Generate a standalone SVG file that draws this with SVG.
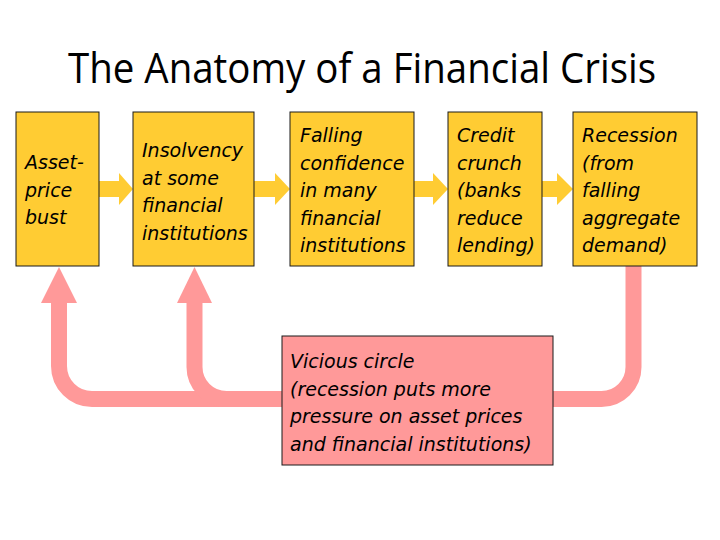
<svg xmlns="http://www.w3.org/2000/svg" width="720" height="540" viewBox="0 0 720 540">
  <style>
    .box { fill: #FFCC33; stroke: #1a1a1a; stroke-width: 1; }
    .pbox { fill: #FF9999; stroke: #1a1a1a; stroke-width: 1; }
    .t { font-family: "DejaVu Sans", "Liberation Sans", sans-serif; font-style: italic; font-size: 19px; fill: #000; }
    .title { font-family: "Open Sans", "Liberation Sans", sans-serif; font-size: 42px; fill: #000; }
    .yarrow { fill: #FFCC33; }
    .loop { fill: none; stroke: #FF9999; stroke-width: 16; }
    .phead { fill: #FF9999; }
  </style>
  <rect width="720" height="540" fill="#ffffff"/>
  <text class="title" x="68" y="83" textLength="588" lengthAdjust="spacingAndGlyphs">The Anatomy of a Financial Crisis</text>

  <g id="connectors">
    <polygon class="yarrow" points="99,181 119,181 119,173 133,189 119,205 119,197 99,197"/>
    <polygon class="yarrow" points="254,181 275,181 275,173 290,189 275,205 275,197 254,197"/>
    <polygon class="yarrow" points="414,181 433,181 433,173 448,189 433,205 433,197 414,197"/>
    <polygon class="yarrow" points="542,181 557,181 557,173 573,189 557,205 557,197 542,197"/>
    <path class="loop" d="M59,302 V366 A33,33 0 0 0 92,399 H283"/>
    <polygon class="phead" points="59,267 41,303 77,303"/>
    <path class="loop" d="M194.5,302 V367 A32,32 0 0 0 226.5,399 H283"/>
    <polygon class="phead" points="194.5,267 177,303 212,303"/>
    <path class="loop" d="M633.5,266 V367 A32,32 0 0 1 601.5,399 H552"/>
  </g>

  <g id="n1">
    <rect class="box" x="16" y="112" width="83" height="154"/>
    <text class="t" x="25" y="169">Asset-</text>
    <text class="t" x="25" y="196.5">price</text>
    <text class="t" x="25" y="224">bust</text>
  </g>
  <g id="n2">
    <rect class="box" x="133" y="112" width="121" height="154"/>
    <text class="t" x="142" y="157">Insolvency</text>
    <text class="t" x="142" y="184.5">at some</text>
    <text class="t" x="142" y="212">financial</text>
    <text class="t" x="142" y="239.5">institutions</text>
  </g>
  <g id="n3">
    <rect class="box" x="290" y="112" width="124" height="154"/>
    <text class="t" x="300" y="142">Falling</text>
    <text class="t" x="300" y="169.5">confidence</text>
    <text class="t" x="300" y="197">in many</text>
    <text class="t" x="300" y="224.5">financial</text>
    <text class="t" x="300" y="252">institutions</text>
  </g>
  <g id="n4">
    <rect class="box" x="448" y="112" width="94" height="154"/>
    <text class="t" x="457" y="142">Credit</text>
    <text class="t" x="457" y="169.5">crunch</text>
    <text class="t" x="457" y="197">(banks</text>
    <text class="t" x="457" y="224.5">reduce</text>
    <text class="t" x="457" y="252">lending)</text>
  </g>
  <g id="n5">
    <rect class="box" x="573" y="112" width="124" height="154"/>
    <text class="t" x="582" y="142">Recession</text>
    <text class="t" x="582" y="169.5">(from</text>
    <text class="t" x="582" y="197">falling</text>
    <text class="t" x="582" y="224.5">aggregate</text>
    <text class="t" x="582" y="252">demand)</text>
  </g>
  <g id="n6">
    <rect class="pbox" x="282" y="336" width="271" height="129"/>
    <text class="t" x="290" y="368">Vicious circle</text>
    <text class="t" x="290" y="395.5">(recession puts more</text>
    <text class="t" x="290" y="423">pressure on asset prices</text>
    <text class="t" x="290" y="450.5">and financial institutions)</text>
  </g>
</svg>
